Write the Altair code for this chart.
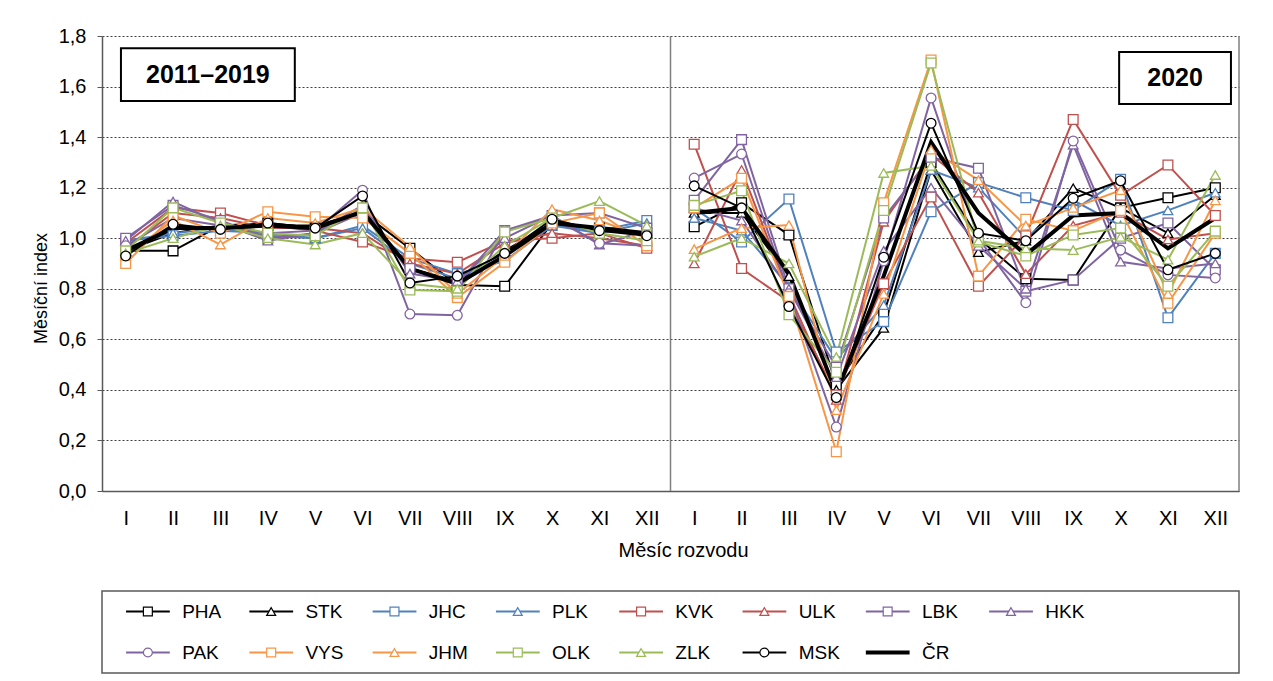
import altair as alt
import pandas as pd

MONTHS = ["I", "II", "III", "IV", "V", "VI", "VII", "VIII", "IX", "X", "XI", "XII"]
PERIOD_LABELS = ["2011–2019", "2020"]

SERIES = ["PHA", "STK", "JHC", "PLK", "KVK", "ULK", "LBK", "HKK",
          "PAK", "VYS", "JHM", "OLK", "ZLK", "MSK", "ČR"]
COLORS = ["#000000", "#000000", "#4F81BD", "#4F81BD", "#C0504D", "#C0504D", "#8064A2", "#8064A2",
          "#8064A2", "#F79646", "#F79646", "#9BBB59", "#9BBB59", "#000000", "#000000"]
SHAPES = ["square", "triangle-up", "square", "triangle-up", "square", "triangle-up", "square", "triangle-up",
          "circle", "square", "triangle-up", "square", "triangle-up", "circle", "circle"]

# 24 values per series: months I..XII of 2011–2019, then I..XII of 2020
PHA = [0.95, 0.95, 1.05, 1.06, 1.04, 1.10, 0.96, 0.815, 0.81, 1.06, 1.04, 1.02,
       1.045, 1.14, 1.013, 0.42, 0.70, 1.30, 1.00, 0.84, 0.835, 1.12, 1.16, 1.20]
STK = [0.95, 1.02, 1.05, 1.05, 1.05, 1.10, 0.88, 0.83, 0.95, 1.06, 1.03, 1.02,
       1.10, 1.10, 0.85, 0.40, 0.645, 1.27, 0.945, 0.99, 1.198, 1.12, 1.02, 1.17]
JHC = [0.99, 1.01, 1.03, 1.02, 1.00, 1.05, 0.92, 0.86, 0.91, 1.05, 1.03, 1.07,
       1.12, 0.985, 1.155, 0.55, 0.67, 1.105, 1.22, 1.16, 1.11, 1.233, 0.685, 0.94]
PLK = [0.99, 1.02, 1.04, 1.01, 1.00, 1.04, 0.90, 0.84, 0.93, 1.05, 1.02, 1.06,
       1.08, 1.03, 0.81, 0.52, 0.735, 1.27, 1.20, 1.00, 1.15, 1.05, 1.11, 1.18]
KVK = [0.98, 1.12, 1.10, 1.05, 1.03, 0.985, 0.92, 0.905, 0.99, 1.00, 1.02, 0.96,
       1.372, 0.88, 0.75, 0.38, 0.82, 1.163, 0.81, 1.01, 1.47, 1.17, 1.29, 1.09]
ULK = [0.96, 1.10, 1.08, 1.04, 1.04, 1.02, 0.90, 0.86, 0.98, 1.02, 1.00, 0.97,
       0.90, 1.27, 0.78, 0.36, 1.065, 1.33, 1.18, 0.858, 1.05, 1.10, 0.995, 1.02]
LBK = [1.00, 1.13, 1.07, 1.00, 1.02, 1.10, 0.88, 0.82, 1.03, 1.09, 1.10, 1.04,
       1.15, 1.39, 0.80, 0.49, 1.08, 1.32, 1.277, 0.79, 0.835, 1.00, 1.06, 0.875]
HKK = [0.99, 1.145, 1.06, 0.99, 1.02, 1.13, 0.86, 0.83, 1.00, 1.09, 0.975, 1.03,
       1.12, 1.07, 0.80, 0.45, 0.95, 1.20, 0.97, 0.80, 1.37, 0.907, 0.88, 0.90]
PAK = [0.97, 1.08, 1.05, 1.02, 1.03, 1.19, 0.70, 0.695, 1.03, 1.08, 0.98, 0.97,
       1.238, 1.333, 0.78, 0.253, 0.91, 1.555, 1.00, 0.745, 1.385, 0.953, 0.855, 0.843]
VYS = [0.90, 1.09, 1.02, 1.105, 1.085, 1.08, 0.94, 0.765, 0.905, 1.06, 1.10, 0.97,
       1.12, 1.237, 0.77, 0.155, 1.14, 1.705, 0.85, 1.075, 1.03, 1.11, 0.743, 1.02]
JHM = [0.93, 1.07, 0.975, 1.08, 1.06, 1.12, 0.965, 0.78, 0.93, 1.115, 1.07, 1.00,
       0.957, 1.04, 1.052, 0.32, 0.78, 1.35, 1.23, 1.05, 1.12, 1.19, 0.78, 1.15]
OLK = [0.95, 1.12, 1.06, 1.02, 1.01, 1.12, 0.795, 0.79, 1.025, 1.08, 1.02, 0.99,
       1.13, 1.188, 0.697, 0.47, 1.11, 1.693, 0.985, 0.93, 1.013, 1.04, 0.81, 1.028]
ZLK = [0.94, 1.00, 1.05, 1.00, 0.975, 1.02, 0.82, 0.80, 0.97, 1.08, 1.147, 1.05,
       0.927, 1.00, 0.90, 0.53, 1.258, 1.286, 0.99, 0.96, 0.953, 1.005, 0.915, 1.25]
MSK = [0.93, 1.055, 1.035, 1.06, 1.04, 1.167, 0.823, 0.85, 0.94, 1.075, 1.03, 1.01,
       1.207, 1.12, 0.73, 0.37, 0.925, 1.455, 1.02, 0.99, 1.158, 1.227, 0.875, 0.94]
CR = [0.95, 1.04, 1.04, 1.05, 1.04, 1.105, 0.88, 0.82, 0.93, 1.06, 1.04, 1.02,
      1.10, 1.12, 0.86, 0.39, 0.85, 1.38, 1.10, 0.934, 1.09, 1.10, 0.96, 1.08]

VALUES = [PHA, STK, JHC, PLK, KVK, ULK, LBK, HKK, PAK, VYS, JHM, OLK, ZLK, MSK, CR]

# annotation boxes (data units) and period separators
BOX_TEXT = PERIOD_LABELS
BOX_X1 = [-0.1, 20.97]
BOX_X2 = [3.57, 23.33]
BOX_Y1 = [1.543, 1.531]
BOX_Y2 = [1.752, 1.737]
SEPARATORS = [11.5, 23.5]

FONT = "Liberation Sans"

rows = []
for name, vals in zip(SERIES, VALUES):
    for i, v in enumerate(vals):
        rows.append({"series": name, "idx": i, "value": v, "period": i // 12})
df = pd.DataFrame(rows)

x_scale = alt.Scale(domain=[-0.5, 23.5], nice=False, zero=False)
y_scale = alt.Scale(domain=[0, 1.8], nice=False)
stroke_scale = alt.Scale(domain=SERIES, range=COLORS)
shape_scale = alt.Scale(domain=SERIES, range=SHAPES)

month_expr = "[" + ",".join("'" + m + "'" for m in MONTHS) + "][datum.value % 12]"

x_enc = alt.X("idx:Q", scale=x_scale, title="Měsíc rozvodu",
              axis=alt.Axis(values=list(range(24)), labelExpr=month_expr, grid=False,
                            ticks=False, labelPadding=17, titlePadding=12,
                            labelFontSize=20, titleFontSize=20, titleX=581,
                            domainColor="#595959", domainWidth=1.5))
y_enc = alt.Y("value:Q", scale=y_scale, title="Měsíční index",
              axis=alt.Axis(values=[round(0.2 * k, 1) for k in range(10)],
                            labelExpr="replace(format(datum.value, '.1f'), '.', ',')",
                            grid=True, gridColor="#404040", gridDash=[2, 2], gridWidth=1,
                            tickSize=5, tickColor="#595959", labelPadding=11, titlePadding=8,
                            labelFontSize=20, titleFontSize=18, titleY=252,
                            domainColor="#595959", domainWidth=1.5))

base = alt.Chart(df)

sep = alt.Chart(pd.DataFrame({"x": SEPARATORS})).mark_rule(color="#7f7f7f", strokeWidth=1.5).encode(
    x=alt.X("x:Q", scale=x_scale))

lines = base.transform_filter("datum.series !== 'ČR'").mark_line(strokeWidth=2).encode(
    x=x_enc, y=y_enc,
    stroke=alt.Stroke("series:N", scale=stroke_scale, legend=None),
    detail="period:N",
    order="idx:Q",
)

cr_line = base.transform_filter("datum.series === 'ČR'").mark_line(strokeWidth=4, color="#000000").encode(
    x="idx:Q", y="value:Q", detail="period:N", order="idx:Q")

points = base.transform_filter("datum.series !== 'ČR'").mark_point(
    fill="white", filled=False, size=95, strokeWidth=1.3, opacity=1).encode(
    x="idx:Q", y="value:Q",
    stroke=alt.Stroke("series:N", scale=stroke_scale, legend=None),
    shape=alt.Shape("series:N", scale=shape_scale, legend=None),
)

box_df = pd.DataFrame({"t": BOX_TEXT, "x1": BOX_X1, "x2": BOX_X2, "y1": BOX_Y1, "y2": BOX_Y2})
boxes = alt.Chart(box_df).mark_rect(fill="white", stroke="black", strokeWidth=2).encode(
    x="x1:Q", x2="x2", y="y1:Q", y2="y2")
box_text = alt.Chart(box_df).transform_calculate(
    xc="(datum.x1 + datum.x2) / 2", yc="(datum.y1 + datum.y2) / 2").mark_text(
    font=FONT, fontSize=25, fontWeight="bold", color="black", baseline="middle", align="center").encode(
    x="xc:Q", y="yc:Q", text="t:N")

main = alt.layer(sep, lines, cr_line, points, boxes, box_text).properties(
    width=1137, height=455, view=alt.ViewBackground(stroke="transparent"))

# legend panel
leg_df = pd.DataFrame({"name": SERIES, "pos": list(range(len(SERIES)))})
leg_base = alt.Chart(leg_df).transform_calculate(
    col="datum.pos % 8", row="floor(datum.pos / 8)").transform_calculate(
    x1="datum.col + 0.195", x2="datum.col + 0.55", xm="datum.col + 0.372",
    xt="datum.col + 0.65", yy="datum.row + 0.5")
lx = alt.Scale(domain=[0, 1137 / 123.3], nice=False, zero=False)
ly = alt.Scale(domain=[2, 0], nice=False, zero=False)

leg_lines = leg_base.mark_rule().encode(
    x=alt.X("x1:Q", scale=lx, axis=None), x2="x2:Q",
    y=alt.Y("yy:Q", scale=ly, axis=None),
    stroke=alt.Stroke("name:N", scale=stroke_scale, legend=None),
    strokeWidth=alt.condition("datum.name === 'ČR'", alt.value(4), alt.value(2)),
)
leg_points = leg_base.transform_filter("datum.name !== 'ČR'").mark_point(
    fill="white", size=80, strokeWidth=1.2, opacity=1).encode(
    x=alt.X("xm:Q", scale=lx, axis=None), y=alt.Y("yy:Q", scale=ly, axis=None),
    stroke=alt.Stroke("name:N", scale=stroke_scale, legend=None),
    shape=alt.Shape("name:N", scale=shape_scale, legend=None),
)
leg_text = leg_base.mark_text(font=FONT, fontSize=19, align="left", baseline="middle", color="black").encode(
    x=alt.X("xt:Q", scale=lx, axis=None), y=alt.Y("yy:Q", scale=ly, axis=None), text="name:N")

legend = alt.layer(leg_lines, leg_points, leg_text).properties(
    width=1137, height=82, view=alt.ViewBackground(stroke="#595959", strokeWidth=1.5))

chart = alt.vconcat(main, legend, spacing=30).properties(
    padding={"left": 24, "top": 18, "right": 5, "bottom": 5}
).configure_axis(
    labelFont=FONT, titleFont=FONT,
    titleFontWeight="normal", labelColor="black", titleColor="black"
).configure_view(strokeWidth=0)

chart.save("out.html", embed_options={"renderer": "svg", "actions": False})
